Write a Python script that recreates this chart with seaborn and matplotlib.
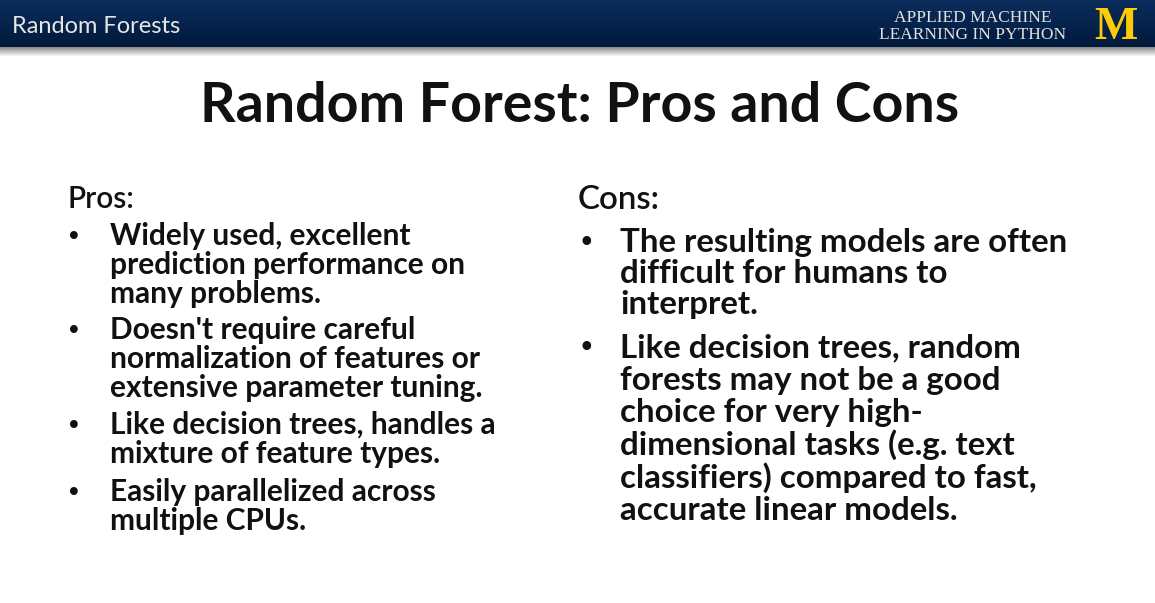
import numpy as np
import seaborn as sns
import matplotlib.pyplot as plt

# slide text
header_left = "Random Forests"
header_right = ["APPLIED MACHINE", "LEARNING IN PYTHON"]
title = "Random Forest: Pros and Cons"

pros_head = "Pros:"
pros = [
    ["Widely used, excellent", "prediction performance on", "many problems."],
    ["Doesn't require careful", "normalization of features or", "extensive parameter tuning."],
    ["Like decision trees, handles a", "mixture of feature types."],
    ["Easily parallelized across", "multiple CPUs."],
]
cons_head = "Cons:"
cons = [
    ["The resulting models are often", "difficult for humans to", "interpret."],
    ["Like decision trees, random", "forests may not be a good", "choice for very high-",
     "dimensional tasks (e.g. text", "classifiers) compared to fast,", "accurate linear models."],
]

sns.set_theme(style="white")
plt.rcParams['font.family'] = ['Lato', 'DejaVu Sans']

W, H = 1155, 603
fig = plt.figure(figsize=(W / 100, H / 100), dpi=100)
ax = fig.add_axes([0, 0, 1, 1])
ax.set_xlim(0, W)
ax.set_ylim(H, 0)
ax.axis('off')

# header bar with a soft gradient and shadow
grad = np.linspace(0, 1, 50).reshape(-1, 1)
bar = np.zeros((50, 1, 3))
top = np.array([0x0b, 0x2d, 0x5c]) / 255
bot = np.array([0x01, 0x1a, 0x3c]) / 255
bar[:, 0, :] = top * (1 - grad) + bot * grad
ax.imshow(bar, extent=[0, W, 47, 0], aspect='auto', zorder=1)
shade = np.linspace(0.55, 1.0, 12).reshape(-1, 1)
shadow = np.repeat(shade[:, :, None], 3, axis=2)
ax.imshow(shadow, extent=[0, W, 57, 47], aspect='auto', zorder=1)

ax.text(12, 33, header_left, fontsize=17, color='#e6e6e6', va='baseline', zorder=3)
ax.text(973, 22, header_right[0], fontsize=12.5, color='#e2e2e2', ha='center',
        va='baseline', family='Liberation Serif', zorder=3)
ax.text(973, 39, header_right[1], fontsize=12.5, color='#e2e2e2', ha='center',
        va='baseline', family='Liberation Serif', zorder=3)
ax.text(1116, 39, "M", fontsize=33, color='#FFCB05', ha='center', va='baseline',
        family='Liberation Serif', weight='bold', zorder=3)

# title
ax.text(580, 122, title, fontsize=40, weight='bold', color='#111111',
        ha='center', va='baseline')


def column(x_head, x_bullet, x_text, y_head, head, items, baselines, size):
    ax.text(x_head, y_head, head, fontsize=size, color='#111111', va='baseline',
            weight='semibold')
    k = 0
    for item in items:
        ax.text(x_bullet, baselines[k], "\u2022", fontsize=size * 0.9, color='#111111',
                va='baseline', family='DejaVu Sans')
        for line in item:
            ax.text(x_text, baselines[k], line, fontsize=size, weight='bold',
                    color='#111111', va='baseline')
            k += 1


pros_y = [245, 274, 303, 339, 368, 397, 434, 463, 501, 530]
cons_y = [252, 283, 314, 357, 390, 422, 455, 488, 520]
column(67, 66, 110, 208, pros_head, pros, pros_y, 21.5)
column(578, 578, 620, 209, cons_head, cons, cons_y, 23.8)

fig.savefig("out.png", dpi=100)
